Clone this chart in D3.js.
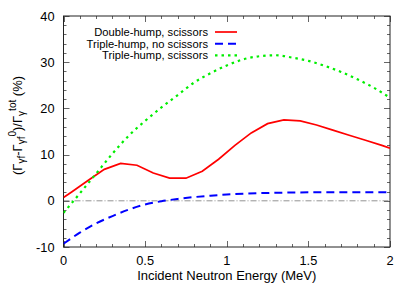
<!DOCTYPE html>
<html>
<head>
<meta charset="utf-8">
<script src="https://cdn.jsdelivr.net/npm/d3@7"></script>
<style>
  body { margin: 0; background: #fff; }
  text { font-family: "Liberation Sans", Arial, sans-serif; }
</style>
</head>
<body>
<div id="chart"></div>
<script>
// energies (MeV) and values (%)
const redE = [0, 0.05, 0.15, 0.25, 0.35, 0.45, 0.55, 0.65, 0.75, 0.85, 0.95, 1.05, 1.15, 1.25, 1.35, 1.45, 1.55, 1.65, 1.75, 1.85, 1.95, 2.0];
const redV = [0.7, 1.9, 4.4, 6.8, 8.1, 7.7, 6.0, 4.9, 4.9, 6.4, 9.0, 12.0, 14.7, 16.7, 17.5, 17.3, 16.4, 15.3, 14.2, 13.1, 12.0, 11.4];

const blueE = [0, 0.1, 0.2, 0.3, 0.4, 0.5, 0.6, 0.7, 0.8, 0.9, 1.0, 1.2, 1.4, 1.6, 1.8, 2.0];
const blueV = [-9.3, -6.9, -4.9, -3.3, -1.9, -0.8, -0.1, 0.4, 0.8, 1.1, 1.35, 1.65, 1.8, 1.85, 1.85, 1.85];

const greenE = [0, 0.1, 0.2, 0.3, 0.4, 0.5, 0.6, 0.7, 0.8, 0.9, 1.0, 1.1, 1.2, 1.3, 1.4, 1.5, 1.6, 1.7, 1.8, 1.9, 2.0];
const greenV = [-2.6, 1.6, 5.9, 10.2, 14.1, 17.3, 20.2, 22.9, 25.6, 27.6, 29.3, 30.6, 31.3, 31.5, 31.0, 30.3, 29.2, 27.9, 26.3, 24.5, 22.3];

const xTicks = [0, 0.5, 1, 1.5, 2];
const yTicks = [-10, 0, 10, 20, 30, 40];
const seriesNames = ["Double-hump, scissors", "Triple-hump, no scissors", "Triple-hump, scissors"];

const W = 415, H = 291;
const margin = { top: 16, right: 25, bottom: 44, left: 63.5 };
const pw = W - margin.left - margin.right;
const ph = H - margin.top - margin.bottom;

const svg = d3.select("#chart").append("svg")
    .attr("width", W)
    .attr("height", H);

const x = d3.scaleLinear().domain([0, 2]).range([margin.left, margin.left + pw]);
const y = d3.scaleLinear().domain([-10, 40]).range([margin.top + ph, margin.top]);

// zero line
svg.append("line")
    .attr("x1", x(0)).attr("x2", x(2))
    .attr("y1", y(0)).attr("y2", y(0))
    .attr("stroke", "#777").attr("stroke-width", 0.8)
    .attr("stroke-dasharray", "6,2,1,2");

// ticks, inward on all four sides
const tickG = svg.append("g").attr("stroke", "#666").attr("stroke-width", 1);
d3.range(0, 2.0001, 0.1).forEach((v, i) => {
    const len = i % 5 === 0 ? 6 : 3;
    const xx = Math.round(x(v)) + 0.5;
    tickG.append("line").attr("x1", xx).attr("x2", xx).attr("y1", y(-10)).attr("y2", y(-10) - len);
    tickG.append("line").attr("x1", xx).attr("x2", xx).attr("y1", y(40)).attr("y2", y(40) + len);
});
d3.range(-10, 40.001, 2).forEach((v, i) => {
    const len = i % 5 === 0 ? 6 : 3;
    const yy = Math.round(y(v)) + 0.5;
    tickG.append("line").attr("x1", x(0)).attr("x2", x(0) + len).attr("y1", yy).attr("y2", yy);
    tickG.append("line").attr("x1", x(2)).attr("x2", x(2) - len).attr("y1", yy).attr("y2", yy);
});

// tick labels
svg.append("g").selectAll("text").data(xTicks).join("text")
    .attr("x", d => x(d)).attr("y", y(-10) + 18)
    .attr("text-anchor", "middle").attr("font-size", 12.8)
    .text(d => d);
svg.append("g").selectAll("text").data(yTicks).join("text")
    .attr("x", margin.left - 9).attr("y", d => y(d) + 4.5)
    .attr("text-anchor", "end").attr("font-size", 12.8)
    .text(d => d);

// frame
svg.append("rect")
    .attr("x", x(0)).attr("y", y(40))
    .attr("width", x(2) - x(0)).attr("height", y(-10) - y(40))
    .attr("fill", "none").attr("stroke", "#222").attr("stroke-width", 1);

// curves
const clip = svg.append("defs").append("clipPath").attr("id", "clip")
    .append("rect")
    .attr("x", x(0)).attr("y", y(40))
    .attr("width", x(2) - x(0)).attr("height", y(-10) - y(40));

const series = [
    { E: redE, V: redV, color: "#ff0000", dash: null, width: 1.7, curve: d3.curveLinear },
    { E: blueE, V: blueV, color: "#0000ff", dash: "8,5", width: 2, curve: d3.curveMonotoneX },
    { E: greenE, V: greenV, color: "#00ee00", dash: "2.5,4", width: 2.2, curve: d3.curveMonotoneX }
];

series.forEach(s => {
    const line = d3.line()
        .x((d, i) => x(s.E[i]))
        .y(d => y(d))
        .curve(s.curve);
    svg.append("path")
        .attr("clip-path", "url(#clip)")
        .attr("d", line(s.V))
        .attr("fill", "none")
        .attr("stroke", s.color)
        .attr("stroke-width", s.width)
        .attr("stroke-dasharray", s.dash);
});

// legend
const legend = svg.append("g");
seriesNames.forEach((name, i) => {
    const ly = 32 + i * 11.7;
    legend.append("text")
        .attr("x", 208).attr("y", ly + 4)
        .attr("text-anchor", "end").attr("font-size", 11.2)
        .text(name);
    legend.append("line")
        .attr("x1", 215).attr("x2", 237)
        .attr("y1", ly).attr("y2", ly)
        .attr("stroke", series[i].color)
        .attr("stroke-width", series[i].width)
        .attr("stroke-dasharray", series[i].dash);
});

// axis titles
svg.append("text")
    .attr("x", (x(0) + x(2)) / 2).attr("y", 280)
    .attr("text-anchor", "middle").attr("font-size", 13)
    .text("Incident Neutron Energy (MeV)");

const yl = svg.append("text")
    .attr("transform", `translate(22, ${(y(-10) + y(40)) / 2 - 6}) rotate(-90)`)
    .attr("text-anchor", "middle").attr("font-size", 13);
yl.append("tspan").text("(Γ");
yl.append("tspan").attr("dy", 3).attr("font-size", 10).text("γf");
yl.append("tspan").attr("dy", -3).text("-Γ");
yl.append("tspan").attr("dy", 3).attr("font-size", 10).text("γf");
yl.append("tspan").attr("dy", -9).attr("font-size", 10).text("0");
yl.append("tspan").attr("dy", 6).text(")/Γ");
yl.append("tspan").attr("dy", 3).attr("font-size", 10).text("γ");
yl.append("tspan").attr("dy", -9).attr("font-size", 10).text("tot");
yl.append("tspan").attr("dy", 6).text(" (%)");
</script>
</body>
</html>
